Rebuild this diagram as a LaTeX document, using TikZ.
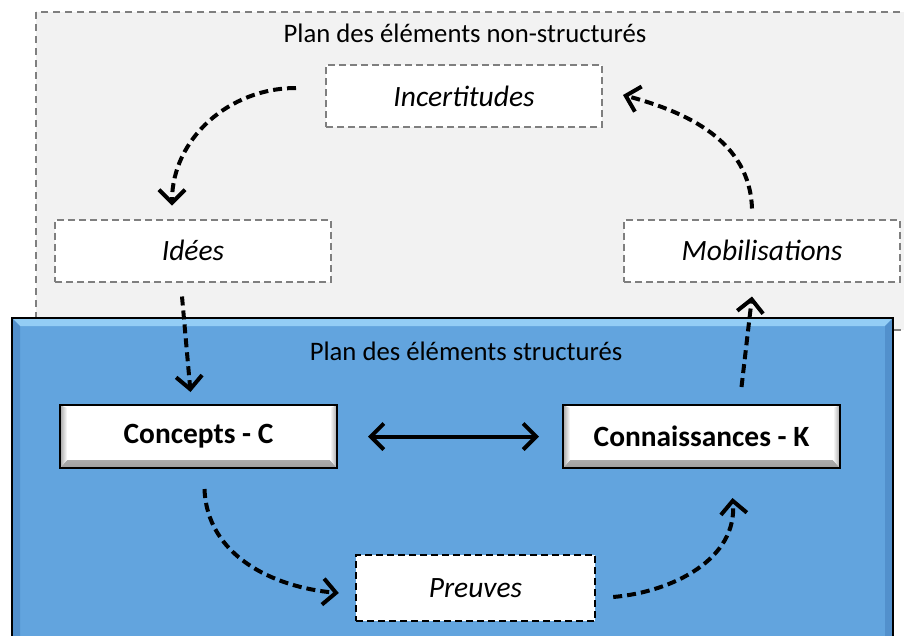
\documentclass[tikz,border=0pt]{standalone}
\usepackage{fontspec}
\setmainfont{Carlito}
\usetikzlibrary{arrows.meta}
\definecolor{planblue}{HTML}{62A4DE}
\definecolor{bevelblue}{HTML}{93CDF5}
\definecolor{darkblue}{HTML}{5290CC}
\definecolor{planbg}{HTML}{F2F2F2}
\definecolor{dashgray}{HTML}{7F7F7F}
\tikzset{
	barb/.tip={Straight Barb[length=13pt,width=26pt,line width=4pt]},
	flow/.style={line width=4pt, dash pattern=on 9pt off 5pt, -{barb}},
	dashbox/.style={rectangle, draw=dashgray, fill=white, line width=2pt,
		dash pattern=on 7pt off 4pt, minimum width=276pt, minimum height=62pt,
		font=\fontsize{29.5}{34}\selectfont\itshape},
	solidbox/.style={rectangle, draw=black, fill=white, line width=2pt,
		minimum width=277pt, minimum height=63pt,
		font=\fontsize{29.4}{34}\selectfont\bfseries,
		path picture={
			\shade[top color=white, bottom color=gray!75]
				([xshift=7pt,yshift=8pt]path picture bounding box.south west) --
				([xshift=-7pt,yshift=8pt]path picture bounding box.south east) --
				(path picture bounding box.south east) --
				(path picture bounding box.south west) -- cycle;
			\shade[left color=gray!70, right color=white]
				(path picture bounding box.south west) --
				([xshift=7pt,yshift=8pt]path picture bounding box.south west) --
				([xshift=7pt,yshift=-3pt]path picture bounding box.north west) --
				(path picture bounding box.north west) -- cycle;
			\shade[left color=white, right color=gray!70]
				(path picture bounding box.south east) --
				([xshift=-7pt,yshift=8pt]path picture bounding box.south east) --
				([xshift=-7pt,yshift=-3pt]path picture bounding box.north east) --
				(path picture bounding box.north east) -- cycle;
		}},
	plantext/.style={font=\fontsize{26.7}{30}\selectfont}
}
\begin{document}
\begin{tikzpicture}[x=1pt,y=-1pt]
	\useasboundingbox (0,0) rectangle (904,635);
	% plan des elements non-structures
	\draw[draw=dashgray, fill=planbg, line width=1.4pt, dash pattern=on 7pt off 5pt]
		(36,12) rectangle (912,330);
	% plan des elements structures
	\fill[planblue] (12,318) rectangle (893,645);
	\fill[bevelblue] (12,318) -- (893,318) -- (885,326) -- (20,326) -- cycle;
	\fill[darkblue] (12,318) -- (20,326) -- (20,645) -- (12,645) -- cycle;
	\fill[darkblue] (893,318) -- (885,326) -- (885,645) -- (893,645) -- cycle;
	\draw[line width=1.8pt] (12,645) -- (12,318) -- (893,318) -- (893,645);

	\node (plan1) at (465, 33)	[plantext]	{Plan des éléments non-structurés};
	\node (plan2) at (466,351)	[plantext]	{Plan des éléments structurés};

	\node (inc)  at (464.0, 96.0)	[dashbox]	{Incertitudes};
	\node (ide)  at (193.0,250.5)	[dashbox]	{Idées};
	\node (mob)  at (762.0,250.5)	[dashbox]	{Mobilisations};
	\node (con)  at (198.5,436.5)	[solidbox]	{Concepts - C};
	\node (kno)  at (701.5,436.5)	[solidbox]	{Connaissances - K};
	\node (pre)  at (475.5,588.0)	[dashbox, draw=black, minimum width=239pt,
		minimum height=66pt, line width=2.4pt]	{Preuves};

	\draw[flow] ([xshift=-29pt,yshift=8pt]inc.west) to[out=180,in=90]
		([xshift=-21pt,yshift=13pt]ide.north);
	\draw[flow] ([xshift=-10pt,yshift=10pt]mob.north) to[out=92,in=-15]
		([xshift=20pt,yshift=1pt]inc.east);
	\draw[flow] ([xshift=-11pt,yshift=-14pt]ide.south) --
		([xshift=-8pt,yshift=12pt]con.north);
	\draw[flow] ([xshift=40pt,yshift=17pt]kno.north) --
		([xshift=-10pt,yshift=-14pt]mob.south);
	\draw[line width=4pt, {barb}-{barb}]
		([xshift=30pt]con.east) -- ([xshift=-23pt]kno.west);
	\draw[flow] ([xshift=6pt,yshift=-20pt]con.south) to[out=-88,in=175]
		([xshift=-16pt,yshift=-5pt]pre.west);
	\draw[flow] ([xshift=17pt,yshift=-9pt]pre.east) to[out=5,in=-85]
		([xshift=31pt,yshift=-29pt]kno.south);
\end{tikzpicture}
\end{document}
